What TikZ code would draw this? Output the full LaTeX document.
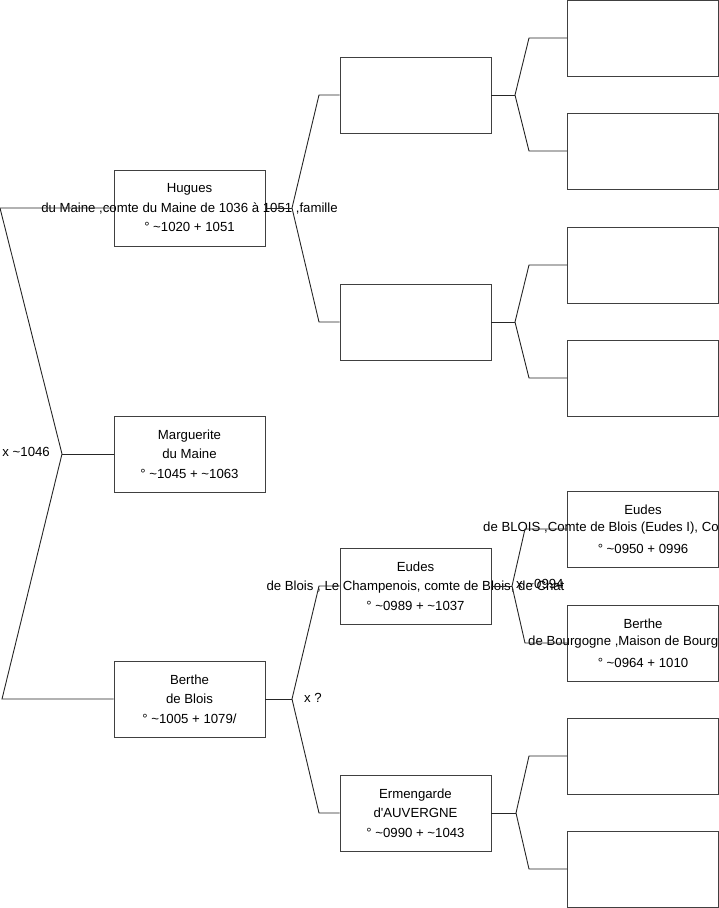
\documentclass[tikz,border=0pt]{standalone}
\usepackage{fontspec}
\setmainfont{Liberation Sans}
\begin{document}
\begin{tikzpicture}[x=1pt,y=1pt,
 box/.style={draw=black!75, line width=0.9pt, minimum width=151pt, minimum height=76pt, inner sep=0pt},
 txt/.style={align=center, font=\fontsize{13.2}{19.5}\selectfont, inner sep=0pt},
 lab/.style={font=\fontsize{13.2}{14}\selectfont, inner sep=0pt},
 conn/.style={draw=black!85, line width=0.9pt}]
\useasboundingbox (0,0) rectangle (719,-908);
% column 1
\node[box] (hug) at (189.5,-208) {};
\node[box] (mar) at (189.5,-454) {};
\node[box] (ber) at (189.5,-699) {};
% column 2
\node[box] (a1) at (415.5,-95) {};
\node[box] (a2) at (415.5,-322) {};
\node[box] (eud) at (415.5,-586) {};
\node[box] (erm) at (415.5,-813) {};
% column 3
\node[box] (b1) at (643,-38) {};
\node[box] (b2) at (643,-151) {};
\node[box] (b3) at (643,-265) {};
\node[box] (b4) at (643,-378) {};
\node[box] (b5) at (643,-529) {};
\node[box] (b6) at (643,-643) {};
\node[box] (b7) at (643,-756) {};
\node[box] (b8) at (643,-869) {};
% texts
\node[txt] (thug) at (hug) {Hugues\\du Maine ,comte du Maine de 1036 à 1051 ,famille\\° \textasciitilde1020 + 1051};
\node[txt] (tmar) at (mar) {Marguerite\\du Maine\\° \textasciitilde1045 + \textasciitilde1063};
\node[txt] (tber) at (ber) {Berthe\\de Blois\\° \textasciitilde1005 + 1079/};
\node[txt] (teud) at (eud) {Eudes\\de Blois , Le Champenois, comte de Blois, de Chat\\° \textasciitilde0989 + \textasciitilde1037};
\node[txt] (term) at (erm) {Ermengarde\\d\textquotesingle AUVERGNE\\° \textasciitilde0990 + \textasciitilde1043};
\node[txt] (tb5) at (b5) {Eudes\\\strut\\° \textasciitilde0950 + 0996};
\node[lab,anchor=west] (tb5b) at (483,-528) {de BLOIS ,Comte de Blois (Eudes I), Co};
\node[txt] (tb6) at (b6) {Berthe\\\strut\\° \textasciitilde0964 + 1010};
\node[lab,anchor=west] (tb6b) at (528,-642) {de Bourgogne ,Maison de Bourg};
% junctions
\coordinate (l1) at (0,-208);
\coordinate (l2) at (2,-699);
\coordinate (j0) at (62,-454);
\coordinate (jh) at (292,-208);
\coordinate (jh1) at (319,-95);
\coordinate (jh2) at (319,-322);
\coordinate (ja1) at (515,-95);
\coordinate (ja11) at (529,-38);
\coordinate (ja12) at (529,-151);
\coordinate (ja2) at (515,-322);
\coordinate (ja21) at (529,-265);
\coordinate (ja22) at (529,-378);
\coordinate (jb) at (292,-699);
\coordinate (jb1) at (319,-586);
\coordinate (jb2) at (319,-813);
\coordinate (je) at (512,-586);
\coordinate (je1) at (525,-529);
\coordinate (je2) at (525,-643);
\coordinate (jr) at (516,-813);
\coordinate (jr1) at (529,-756);
\coordinate (jr2) at (529,-869);
% connectors
\draw[conn] (hug.west) -- (l1) -- (j0) -- (l2) -- (ber.west);
\draw[conn] (j0) -- (mar.west);
\draw[conn] (hug.east) -- (jh);
\draw[conn] (a1.west) -- (jh1) -- (jh) -- (jh2) -- (a2.west);
\draw[conn] (a1.east) -- (ja1);
\draw[conn] (b1.west) -- (ja11) -- (ja1) -- (ja12) -- (b2.west);
\draw[conn] (a2.east) -- (ja2);
\draw[conn] (b3.west) -- (ja21) -- (ja2) -- (ja22) -- (b4.west);
\draw[conn] (ber.east) -- (jb);
\draw[conn] (eud.west) -- (jb1) -- (jb) -- (jb2) -- (erm.west);
\draw[conn] (eud.east) -- (je);
\draw[conn] (b5.west) -- (je1) -- (je) -- (je2) -- (b6.west);
\draw[conn] (erm.east) -- (jr);
\draw[conn] (b7.west) -- (jr1) -- (jr) -- (jr2) -- (b8.west);
% marriage labels
\node[lab,anchor=east] (m1) at (50,-452) {x \textasciitilde1046};
\node[lab,anchor=west] (m2) at (304,-698) {x ?};
\node[lab,anchor=west] (m3) at (516,-584) {x \textasciitilde0994};
\end{tikzpicture}
\end{document}
